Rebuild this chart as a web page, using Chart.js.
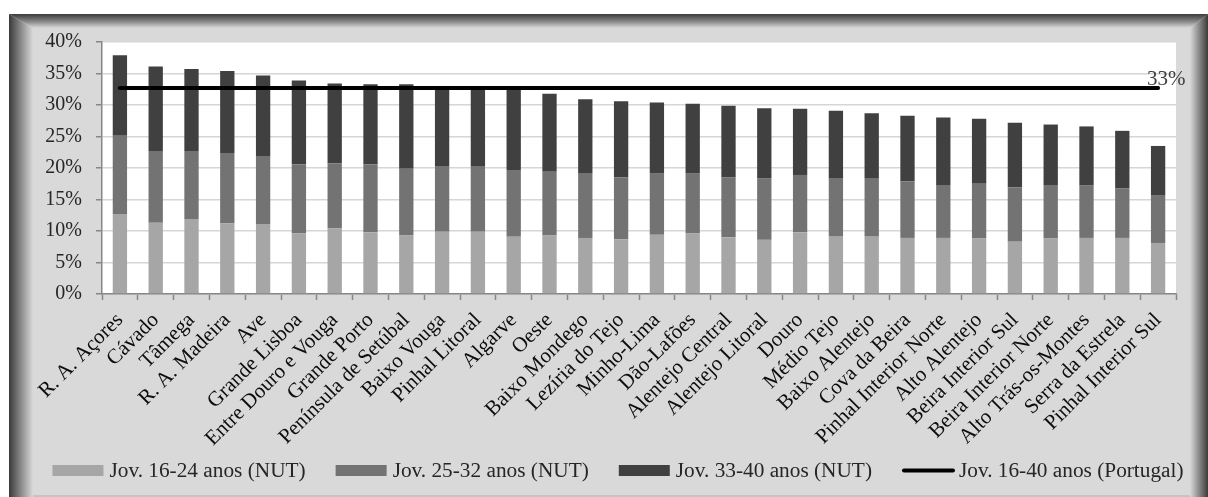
<!DOCTYPE html>
<html lang="pt">
<head>
<meta charset="utf-8">
<title>Jovens por NUT III</title>
<script src="https://cdn.jsdelivr.net/npm/chart.js@4/dist/chart.umd.min.js"></script>
<style>
  html, body { margin: 0; padding: 0; background: #ffffff; }
  #wrap { position: relative; width: 1208px; height: 497px; overflow: hidden; }
  .panel { position: absolute; left: 9px; top: 14px; width: 1199px; height: 483px; background: #d9d9d9; }
  .edge-top { position: absolute; left: 9px; top: 14px; width: 1199px; height: 14px;
    background: linear-gradient(to bottom, #3a3a3a 0%, #8a8a8a 55%, #d9d9d9 100%);
    clip-path: polygon(0 0, 100% 0, calc(100% - 18px) 100%, 24px 100%); }
  .edge-left { position: absolute; left: 9px; top: 14px; width: 24px; height: 483px;
    background: linear-gradient(to right, #3a3a3a 0%, #8a8a8a 50%, #d9d9d9 100%);
    clip-path: polygon(0 0, 100% 14px, 100% 100%, 0 100%); }
  .edge-right { position: absolute; right: 0; top: 14px; width: 18px; height: 483px;
    background: linear-gradient(to left, #3a3a3a 0%, #8a8a8a 50%, #d9d9d9 100%);
    clip-path: polygon(0 14px, 100% 0, 100% 100%, 0 100%); }
  .edge-bottom { position: absolute; left: 33px; bottom: 0; width: 1157px; height: 2px; background: #c4c4c4; }
  canvas { position: absolute; left: 0; top: 0; }
</style>
</head>
<body>
<div id="wrap">
  <div class="panel"></div>
  <div class="edge-top"></div>
  <div class="edge-left"></div>
  <div class="edge-right"></div>
  <div class="edge-bottom"></div>
  <canvas id="grafico" width="1208" height="497"></canvas>
</div>
<script>
// NUTS III regions, ordered by total share of young people (16-40)
const regioes = [
  'R. A. Açores', 'Cávado', 'Tâmega', 'R. A. Madeira', 'Ave', 'Grande Lisboa',
  'Entre Douro e Vouga', 'Grande Porto', 'Península de Setúbal', 'Baixo Vouga',
  'Pinhal Litoral', 'Algarve', 'Oeste', 'Baixo Mondego', 'Lezíria do Tejo',
  'Minho-Lima', 'Dão-Lafões', 'Alentejo Central', 'Alentejo Litoral', 'Douro',
  'Médio Tejo', 'Baixo Alentejo', 'Cova da Beira', 'Pinhal Interior Norte',
  'Alto Alentejo', 'Beira Interior Sul', 'Beira Interior Norte',
  'Alto Trás-os-Montes', 'Serra da Estrela', 'Pinhal Interior Sul'
];

// Share of population (%) by age group in each region
const jov1624 = [12.7, 11.3, 11.9, 11.2, 11.1, 9.6, 10.4, 9.8, 9.3, 9.9,
                 9.9, 9.1, 9.3, 8.9, 8.7, 9.4, 9.6, 9.0, 8.6, 9.8,
                 9.1, 9.1, 8.9, 8.9, 8.8, 8.3, 8.8, 8.9, 8.9, 8.1];
const jov2532 = [12.4, 11.4, 10.8, 11.2, 10.8, 11.0, 10.3, 10.8, 10.6, 10.3,
                 10.3, 10.6, 10.1, 10.3, 9.8, 9.8, 9.6, 9.5, 9.8, 9.1,
                 9.2, 9.2, 9.0, 8.4, 8.7, 8.6, 8.5, 8.3, 7.9, 7.5];
const jov3340 = [12.8, 13.4, 13.0, 13.0, 12.8, 13.3, 12.7, 12.7, 13.4, 12.8,
                 12.7, 13.1, 12.4, 11.7, 12.1, 11.2, 11.0, 11.4, 11.1, 10.5,
                 10.8, 10.4, 10.4, 10.7, 10.3, 10.3, 9.6, 9.4, 9.1, 7.9];

// National reference (Portugal, ages 16-40)
const portugal1640 = 32.7;
const portugalSerie = regioes.map(() => portugal1640);

// Value axis
const eixoMin = 0;
const eixoMax = 40;
const eixoPasso = 5;

const serif = "'Liberation Serif', 'Times New Roman', serif";

// Legend placement (drawn below the axis labels)
const legendaCentroX = 618;
const legendaY = 470.5;

// White plotting area behind the grid
const fundoArea = {
  id: 'fundoArea',
  beforeDraw(chart) {
    const { ctx, chartArea: a } = chart;
    ctx.save();
    ctx.fillStyle = '#ffffff';
    ctx.fillRect(a.left, a.top, a.right - a.left, a.bottom - a.top);
    ctx.restore();
  }
};

// Value label at the end of the national line
const rotuloLinha = {
  id: 'rotuloLinha',
  afterDatasetsDraw(chart) {
    const meta = chart.getDatasetMeta(3);
    const pts = meta.data;
    if (!pts.length) return;
    const last = pts[pts.length - 1];
    const valor = chart.data.datasets[3].data[pts.length - 1];
    const { ctx } = chart;
    ctx.save();
    ctx.font = '21px ' + serif;
    ctx.fillStyle = '#404040';
    ctx.textAlign = 'left';
    ctx.textBaseline = 'alphabetic';
    ctx.fillText(Math.round(valor) + '%', last.x - 11, last.y - 3);
    ctx.restore();
  }
};

// Single-row legend: wide swatches for the bars, a thick stroke for the line
const legenda = {
  id: 'legenda',
  afterDraw(chart) {
    const { ctx } = chart;
    const ds = chart.data.datasets;
    const boxW = 51, boxH = 11, gap = 6, sep = 30;
    ctx.save();
    ctx.font = '21.3px ' + serif;
    const larguras = ds.map(d => ctx.measureText(d.label).width);
    const total = larguras.reduce((s, w) => s + boxW + gap + w, 0) + sep * (ds.length - 1);
    let x = legendaCentroX - total / 2;
    ds.forEach((d, i) => {
      if (d.type === 'line') {
        ctx.strokeStyle = d.borderColor;
        ctx.lineWidth = d.borderWidth;
        ctx.lineCap = 'round';
        ctx.beginPath();
        ctx.moveTo(x + 2, legendaY);
        ctx.lineTo(x + boxW, legendaY);
        ctx.stroke();
      } else {
        ctx.fillStyle = d.backgroundColor;
        ctx.fillRect(x, legendaY - boxH / 2, boxW, boxH);
      }
      ctx.fillStyle = '#262626';
      ctx.textAlign = 'left';
      ctx.textBaseline = 'middle';
      ctx.fillText(d.label, x + boxW + gap, legendaY + 1);
      x += boxW + gap + larguras[i] + sep;
    });
    ctx.restore();
  }
};

new Chart(document.getElementById('grafico'), {
  data: {
    labels: regioes,
    datasets: [
      { type: 'bar', label: 'Jov. 16-24 anos (NUT)', data: jov1624,
        backgroundColor: '#a6a6a6', stack: 'nut', order: 2,
        categoryPercentage: 1, barPercentage: 0.4 },
      { type: 'bar', label: 'Jov. 25-32 anos (NUT)', data: jov2532,
        backgroundColor: '#737373', stack: 'nut', order: 2,
        categoryPercentage: 1, barPercentage: 0.4 },
      { type: 'bar', label: 'Jov. 33-40 anos (NUT)', data: jov3340,
        backgroundColor: '#404040', stack: 'nut', order: 2,
        categoryPercentage: 1, barPercentage: 0.4 },
      { type: 'line', label: 'Jov. 16-40 anos (Portugal)', data: portugalSerie,
        borderColor: '#000000', backgroundColor: '#000000', borderWidth: 4,
        borderCapStyle: 'round', pointRadius: 0, pointHoverRadius: 0,
        stack: 'pt', order: 1, fill: false }
    ]
  },
  options: {
    responsive: false,
    animation: false,
    events: [],
    layout: { padding: { left: 0, right: 32, top: 42, bottom: 43 } },
    scales: {
      x: {
        stacked: true,
        grid: { offset: true, drawOnChartArea: false, tickColor: '#868686',
                tickLength: 6, tickWidth: 1.5 },
        border: { color: '#868686', width: 1.5 },
        ticks: { autoSkip: false, maxRotation: 45, minRotation: 45, padding: 8,
                 color: '#0d0d0d', font: { family: serif, size: 21 } },
        afterFit(scale) { scale.height = 160; }
      },
      y: {
        stacked: true,
        min: eixoMin, max: eixoMax,
        ticks: { stepSize: eixoPasso, autoSkip: false, padding: 14, color: '#262626',
                 font: { family: serif, size: 20 },
                 callback: v => v + '%' },
        grid: { color: '#d6d6d6', lineWidth: 1.5, tickColor: '#868686',
                tickLength: 6, tickWidth: 1.5 },
        border: { color: '#868686', width: 1.5 },
        afterFit(scale) { scale.width = 102; }
      }
    },
    plugins: {
      tooltip: { enabled: false },
      legend: { display: false }
    }
  },
  plugins: [fundoArea, rotuloLinha, legenda]
});
</script>
</body>
</html>
